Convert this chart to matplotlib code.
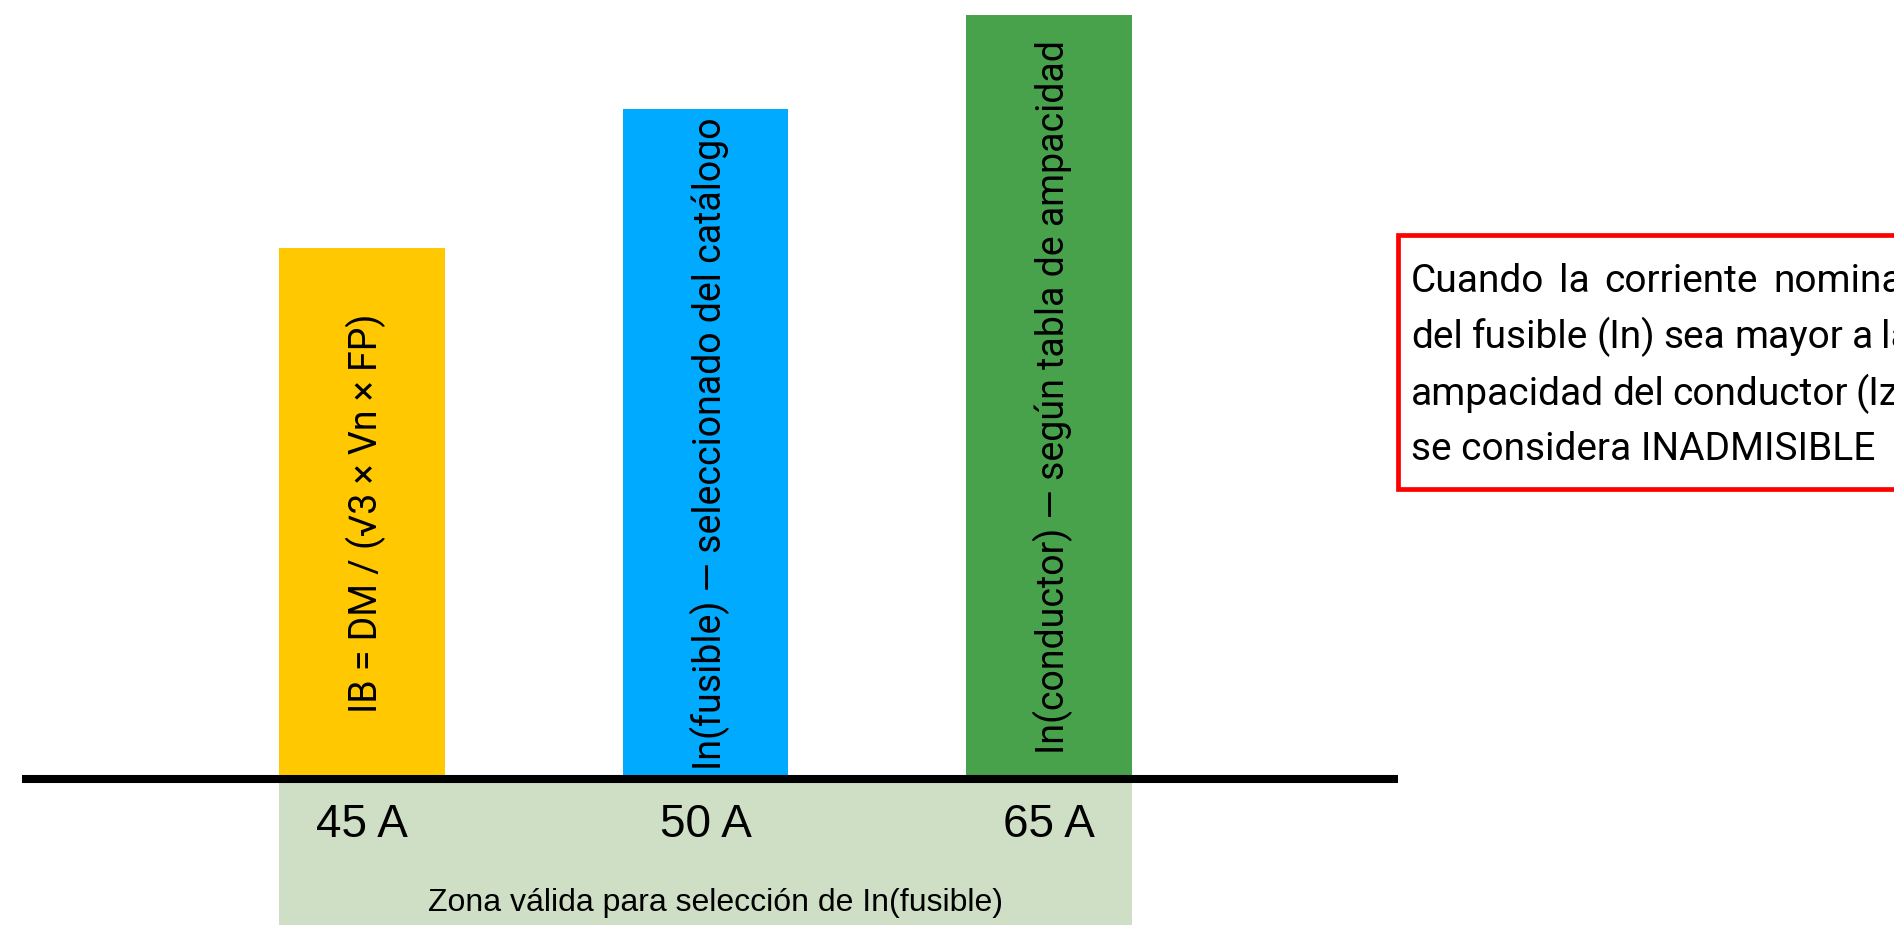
import matplotlib
matplotlib.use("Agg")
from matplotlib import pyplot as plt
from matplotlib.patches import Rectangle

# data
categories = ["IB", "In(fusible)", "In(conductor)"]
bar_heights = [3.47, 4.38, 5.0]
bar_labels = ["IB = DM / (\u221a3 \u00d7 Vn \u00d7 FP)",
              "In(fusible) \u2014 seleccionado del cat\u00e1logo",
              "In(conductor) \u2014 seg\u00fan tabla de ampacidad"]
value_labels = ["45 A", "50 A", "65 A"]
bar_colors = ["#FFC800", "#00AAFF", "#48A24C"]
zone_label = "Zona v\u00e1lida para selecci\u00f3n de In(fusible)"
box_lines = ["Cuando la corriente nominal",
             "del fusible (In) sea mayor a la",
             "ampacidad del conductor (Iz)",
             "se considera INADMISIBLE"]

W, H = 1894, 925
fig = plt.figure(figsize=(W / 100, H / 100), dpi=100)
ax = fig.add_axes([0, 0, 1, 1])
ax.axis('off')

# scale: pixels per unit
sx, x0 = 343.5, 362
sy, y0 = 152.9, 146
ax.set_xlim(-x0 / sx, (W - x0) / sx)
ax.set_ylim(-y0 / sy, (H - y0) / sy)

bw = 0.483
xs = list(range(len(categories)))

# light green zone under the axis
zone = Rectangle((xs[0] - bw / 2, -y0 / sy), xs[-1] - xs[0] + bw, y0 / sy,
                 facecolor="#CEDFC5", edgecolor='none', zorder=1)
ax.add_patch(zone)

ax.bar(xs, bar_heights, width=bw, color=bar_colors, zorder=2)

# base line
ax.plot([-0.99, 3.016], [0, 0], color='black', lw=5.8,
        solid_capstyle='butt', zorder=3)

for x, h, lab in zip(xs, bar_heights, bar_labels):
    ax.text(x + 0.012, h / 2, lab, rotation=90, ha='center', va='center',
            fontsize=27, family=['Roboto', 'DejaVu Sans'], color='black',
            zorder=4)

for x, lab in zip(xs, value_labels):
    ax.text(x, -0.3, lab, ha='center', va='center', fontsize=33,
            family='Liberation Sans', color='black', zorder=4)

ax.text(1.03, -0.81, zone_label, ha='center', va='center', fontsize=23,
        family='Liberation Sans', color='black', zorder=4)

# red box (runs off the right edge)
box_l, box_t, box_b = 1398, 235, 489
fig.patches.append(Rectangle((box_l / W, 1 - box_b / H), 0.5,
                             (box_b - box_t) / H, transform=fig.transFigure,
                             facecolor='white', edgecolor='#FF0000',
                             linewidth=3.4, clip_on=False))

# justified text inside the box
renderer = fig.canvas.get_renderer()
txt_left, txt_right = 1411, 1912
baselines = [292, 348, 405, 460]
fkw = dict(fontsize=28, family='Roboto', color='black', va='baseline',
           ha='left')
for i, (line, yb) in enumerate(zip(box_lines, baselines)):
    words = line.split(" ")
    last = i == len(box_lines) - 1
    if last:
        fig.text(txt_left / W, 1 - yb / H, line, **fkw)
        continue
    widths = []
    for w in words:
        t = fig.text(0, 0, w, **fkw)
        widths.append(t.get_window_extent(renderer).width)
        t.remove()
    gap = (txt_right - txt_left - sum(widths)) / (len(words) - 1)
    xcur = txt_left
    for w, wd in zip(words, widths):
        fig.text(xcur / W, 1 - yb / H, w, **fkw)
        xcur += wd + gap

fig.savefig("out.png", dpi=100)
